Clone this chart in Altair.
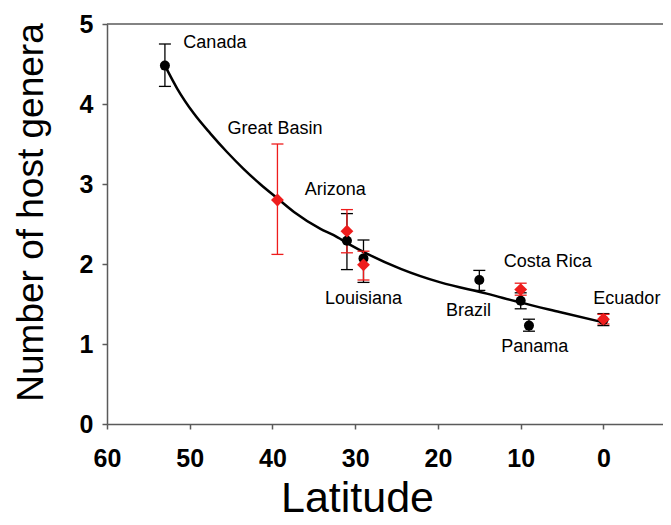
import altair as alt
import pandas as pd

# ---- data ----
black_sites = ["Canada", "Arizona", "Louisiana", "Brazil", "Costa Rica", "Panama", "Ecuador"]
black_lat = [53, 31, 29, 15, 10, 9, 0]
black_mean = [4.48, 2.29, 2.07, 1.80, 1.54, 1.23, 1.30]
black_lo = [4.22, 1.93, 1.77, 1.67, 1.44, 1.16, 1.23]
black_hi = [4.75, 2.63, 2.30, 1.92, 1.64, 1.31, 1.38]

red_sites = ["Great Basin", "Arizona", "Louisiana", "Costa Rica", "Ecuador"]
red_lat = [39.4, 31, 29, 10, 0]
red_mean = [2.80, 2.41, 1.99, 1.68, 1.31]
red_lo = [2.12, 2.14, 1.80, 1.61, 1.25]
red_hi = [3.50, 2.68, 2.16, 1.76, 1.37]

curve_lat = [53, 51.5, 49.5, 47.5, 45.5, 43.5, 41.5, 39.4, 37.4, 34.2, 32.6, 30.6,
             28.6, 24.5, 19.7, 14.1, 10.1, 5.3, 0]
curve_val = [4.48, 4.19, 3.88, 3.63, 3.40, 3.19, 3.00, 2.82, 2.65, 2.44, 2.36, 2.24,
             2.13, 1.94, 1.77, 1.63, 1.52, 1.40, 1.27]

label_text = ["Canada", "Great Basin", "Arizona", "Louisiana", "Brazil", "Costa Rica", "Panama", "Ecuador"]
label_lat = [46.96, 39.7, 32.4, 29.0, 16.3, 6.74, 8.29, -2.83]
label_val = [4.76, 3.69, 2.92, 1.56, 1.41, 2.03, 0.96, 1.56]

x_ticks = [60, 50, 40, 30, 20, 10, 0]
y_ticks = [0, 1, 2, 3, 4, 5]

# ---- tables ----
black_df = pd.DataFrame({"site": black_sites, "lat": black_lat, "mean": black_mean,
                         "lo": black_lo, "hi": black_hi})
red_df = pd.DataFrame({"site": red_sites, "lat": red_lat, "mean": red_mean,
                       "lo": red_lo, "hi": red_hi})
curve_df = pd.DataFrame({"lat": curve_lat, "val": curve_val})
label_df = pd.DataFrame({"text": label_text, "lat": label_lat, "val": label_val})

FONT = "Liberation Sans"
AXIS_GRAY = "#5a5a5a"
RED = "#EE1C1C"
X_END = -7.2

x_scale = alt.Scale(domain=[X_END, 60], reverse=True, nice=False, zero=False)
y_scale = alt.Scale(domain=[0, 5], nice=False)

x_axis = alt.Axis(values=x_ticks, format="d", grid=False, labelFont=FONT, labelFontSize=25,
                  labelFontWeight="bold", labelColor="black", labelPadding=17,
                  labelFlush=False, labelOverlap=False,
                  domainColor=AXIS_GRAY, domainWidth=1.5, tickColor=AXIS_GRAY,
                  tickWidth=1.5, tickSize=5,
                  title="Latitude", titleFont=FONT, titleFontSize=43,
                  titleFontWeight="normal", titleColor="black",
                  titleX=250, titleY=74, titleAlign="center", titleBaseline="middle")
y_axis = alt.Axis(values=y_ticks, format="d", grid=False, labelFont=FONT, labelFontSize=25,
                  labelFontWeight="bold", labelColor="black", labelPadding=9,
                  labelFlush=False, labelOverlap=False,
                  domainColor=AXIS_GRAY, domainWidth=1.5, tickColor=AXIS_GRAY,
                  tickWidth=1.5, tickSize=5,
                  title="Number of host genera", titleFont=FONT, titleFontSize=37,
                  titleFontWeight="normal", titleColor="black",
                  titleX=-76, titleY=188, titleAlign="center", titleBaseline="middle",
                  titleAngle=270)

curve = alt.Chart(curve_df).mark_line(color="black", strokeWidth=2.5,
                                      interpolate="monotone").encode(
    x=alt.X("lat:Q", scale=x_scale, axis=x_axis),
    y=alt.Y("val:Q", scale=y_scale, axis=y_axis),
)


def errorbars(df, color):
    base = alt.Chart(df)
    stem = base.mark_rule(color=color, strokeWidth=1.3).encode(
        x=alt.X("lat:Q", scale=x_scale), y=alt.Y("lo:Q", scale=y_scale), y2="hi:Q")
    cap_lo = base.mark_tick(color=color, size=12, thickness=1.3, orient="horizontal",
                            opacity=1).encode(
        x=alt.X("lat:Q", scale=x_scale), y=alt.Y("lo:Q", scale=y_scale))
    cap_hi = base.mark_tick(color=color, size=12, thickness=1.3, orient="horizontal",
                            opacity=1).encode(
        x=alt.X("lat:Q", scale=x_scale), y=alt.Y("hi:Q", scale=y_scale))
    return stem + cap_lo + cap_hi


black_pts = alt.Chart(black_df).mark_point(shape="circle", filled=True, size=100,
                                           color="black", opacity=1).encode(
    x=alt.X("lat:Q", scale=x_scale), y=alt.Y("mean:Q", scale=y_scale))
red_pts = alt.Chart(red_df).mark_point(shape="diamond", filled=True, size=165,
                                       color=RED, opacity=1).encode(
    x=alt.X("lat:Q", scale=x_scale), y=alt.Y("mean:Q", scale=y_scale))

labels = alt.Chart(label_df).mark_text(font=FONT, fontSize=18, color="black",
                                       align="center", baseline="middle").encode(
    x=alt.X("lat:Q", scale=x_scale), y=alt.Y("val:Q", scale=y_scale), text="text:N")

frame_top = alt.Chart(pd.DataFrame({"k": [0]})).mark_rule(
    color=AXIS_GRAY, strokeWidth=1.5).encode(
    x=alt.datum(60), x2=alt.datum(X_END), y=alt.datum(5))

chart = alt.layer(
    curve, errorbars(black_df, "black"), errorbars(red_df, RED),
    black_pts, red_pts, labels, frame_top
).properties(
    width=556, height=400,
    autosize=alt.AutoSizeParams(type="none"),
    padding={"left": 99, "top": 16, "right": 0, "bottom": 95},
).configure_view(stroke=None)

chart.save("out.html", embed_options={"renderer": "svg", "actions": False})
